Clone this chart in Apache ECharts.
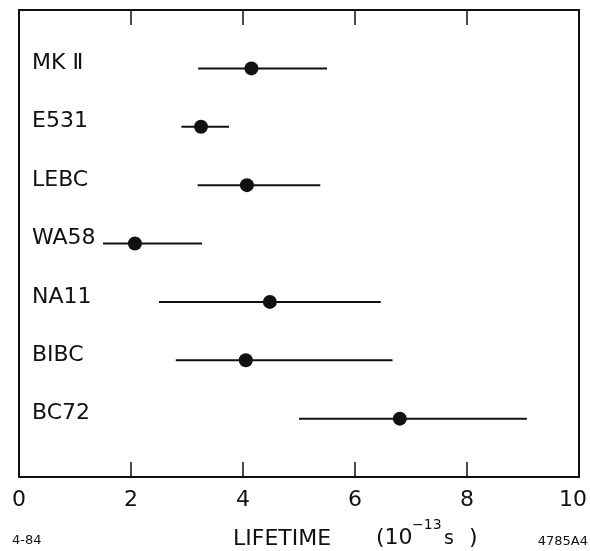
<!DOCTYPE html>
<html>
<head>
<meta charset="utf-8">
<script src="https://cdn.jsdelivr.net/npm/echarts@6/dist/echarts.min.js"></script>
<style>
html,body{margin:0;padding:0;background:#fff;}
#chart{width:590px;height:551px;}
</style>
</head>
<body>
<div id="chart"></div>
<script>
// ---- data ----
const experiments = ['MK \u2161', 'E531', 'LEBC', 'WA58', 'NA11', 'BIBC', 'BC72'];
const rowIndex = [1, 2, 3, 4, 5, 6, 7];
const lifetime = [4.15, 3.25, 4.07, 2.07, 4.48, 4.05, 6.8];
const lowerErr = [3.2, 2.9, 3.19, 1.5, 2.5, 2.8, 5.0];
const upperErr = [5.5, 3.75, 5.38, 3.27, 6.46, 6.67, 9.07];
const xTickValues = [0, 2, 4, 6, 8, 10];
const xTitle = 'LIFETIME';
const dateCode = '4-84';
const figCode = '4785A4';

// ---- build ----
const ink = '#111';
const font = 'DejaVu Sans';
const barData = experiments.map((n, i) => [lowerErr[i], upperErr[i], rowIndex[i], n]);
const dotData = experiments.map((n, i) => [lifetime[i], rowIndex[i]]);

const chart = echarts.init(document.getElementById('chart'), null, {renderer: 'canvas'});

function makeX(pos, showLabels) {
  return {
    type: 'value', position: pos,
    min: xTickValues[0], max: xTickValues[xTickValues.length - 1], interval: 2,
    axisLine: {show: true, onZero: false, lineStyle: {color: ink, width: 2}},
    axisTick: {show: true, inside: true, length: 15, lineStyle: {color: ink, width: 1.5}},
    splitLine: {show: false},
    axisLabel: showLabels ? {
      show: true, inside: false, margin: 12, color: ink, fontFamily: font, fontSize: 22,
      formatter: v => v === 10 ? '{r|' + v + '}' : String(v),
      rich: {r: {fontFamily: font, fontSize: 22, color: ink, padding: [0, 12, 0, 0]}}
    } : {show: false}
  };
}
function makeY(pos) {
  return {
    type: 'value', position: pos, min: 0, max: 8, inverse: true,
    axisLine: {show: true, onZero: false, lineStyle: {color: ink, width: 2}},
    axisTick: {show: false}, axisLabel: {show: false}, splitLine: {show: false}
  };
}

chart.setOption({
  animation: false,
  backgroundColor: '#fff',
  grid: {left: 19, right: 7, top: 10, bottom: 74, containLabel: false},
  xAxis: [makeX('bottom', true), makeX('top', false)],
  yAxis: [makeY('left'), makeY('right')],
  series: [
    {
      type: 'custom',
      data: barData,
      renderItem: function (params, api) {
        const lo = api.coord([api.value(0), api.value(2)]);
        const hi = api.coord([api.value(1), api.value(2)]);
        const left = api.coord([0, api.value(2)]);
        return {
          type: 'group',
          children: [
            {type: 'line', shape: {x1: lo[0], y1: lo[1], x2: hi[0], y2: hi[1]},
             style: {stroke: ink, lineWidth: 2}},
            {type: 'text', x: left[0] + 13, y: left[1] - 5,
             style: {text: experiments[params.dataIndex], fill: ink, font: '22px "' + font + '"',
                     textAlign: 'left', textVerticalAlign: 'middle'}}
          ]
        };
      }
    },
    {
      type: 'scatter',
      data: dotData,
      symbol: 'circle',
      symbolSize: 14,
      itemStyle: {color: ink, opacity: 1}
    }
  ],
  graphic: [
    {type: 'text', left: 233, top: 528,
     style: {text: xTitle, fill: ink, font: '22px "' + font + '"'}},
    {type: 'text', left: 376, top: 527,
     style: {text: '(10', fill: ink, font: '22px "' + font + '"'}},
    {type: 'text', left: 412, top: 518,
     style: {text: '\u221213', fill: ink, font: '14px "' + font + '"'}},
    {type: 'text', left: 444, top: 530,
     style: {text: 's', fill: ink, font: '19px "' + font + '"'}},
    {type: 'text', left: 469, top: 527,
     style: {text: ')', fill: ink, font: '22px "' + font + '"'}},
    {type: 'text', left: 12, top: 534,
     style: {text: dateCode, fill: ink, font: '13px "' + font + '"'}},
    {type: 'text', right: 2, top: 535,
     style: {text: figCode, fill: ink, font: '13px "' + font + '"'}}
  ]
});
</script>
</body>
</html>
